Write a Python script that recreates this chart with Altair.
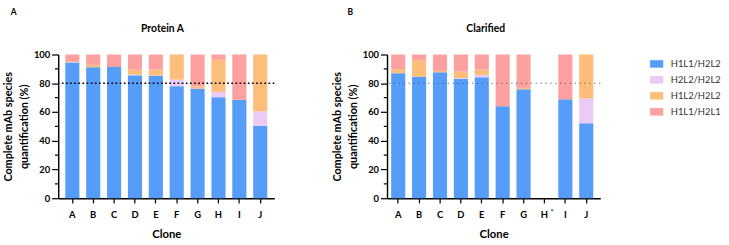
import altair as alt
import pandas as pd

# Clones on the x axis and the four mAb species stacked in each bar (bottom to top)
clones = ["A", "B", "C", "D", "E", "F", "G", "H", "I", "J"]
species = ["H1L1/H2L2", "H2L2/H2L2", "H1L2/H2L2", "H1L1/H2L1"]
species_colors = ["#559DF9", "#EBCBF6", "#FDBE7C", "#FCA0A0"]

# Protein A purified material (% of complete mAb species)
pa_h1l1_h2l2 = [94.5, 91.2, 91.3, 85.5, 85.3, 78.0, 76.2, 70.3, 68.5, 50.5]
pa_h2l2_h2l2 = [0.0, 0.0, 0.0, 0.5, 0.0, 4.5, 0.0, 3.7, 0.0, 10.0]
pa_h1l2_h2l2 = [0.5, 1.6, 0.0, 3.4, 4.2, 17.5, 1.5, 22.3, 0.0, 39.5]
pa_h1l1_h2l1 = [5.0, 7.2, 8.7, 10.6, 10.5, 0.0, 22.3, 3.7, 31.5, 0.0]

# Clarified harvest (% of complete mAb species); clone H was not measured
cl_h1l1_h2l2 = [87.0, 84.5, 87.6, 83.1, 84.1, 64.0, 75.8, None, 68.8, 52.2]
cl_h2l2_h2l2 = [0.0, 0.0, 0.0, 0.5, 1.7, 0.0, 0.0, None, 0.0, 17.2]
cl_h1l2_h2l2 = [2.9, 11.6, 1.0, 4.5, 3.7, 0.0, 1.0, None, 0.0, 30.6]
cl_h1l1_h2l1 = [10.1, 3.9, 11.4, 11.9, 10.5, 36.0, 23.2, None, 31.2, 0.0]

threshold = [80]
major_ticks = [0, 20, 40, 60, 80, 100]
minor_ticks = [10, 30, 50, 70, 90]

FONT = "Lato"
H = 153


def to_long(series):
    rows = []
    for k, (name, values) in enumerate(zip(species, series)):
        for clone, v in zip(clones, values):
            if v is None:
                continue
            rows.append({"clone": clone, "species": name, "value": v, "k": k})
    return pd.DataFrame(rows)


def panel(df, title, letter, width, outer, align, rule_style, letter_dx, title_x, star=None):
    xscale = alt.Scale(domain=clones, paddingInner=0.325, paddingOuter=outer, align=align)
    xaxis = alt.Axis(
        title="Clone", labelAngle=0, labelFont=FONT, labelFontWeight="bold",
        labelFontSize=10, labelColor="black", labelPadding=7,
        titleFont=FONT, titleFontWeight="bold", titleFontSize=12,
        titleColor="black", titlePadding=11, tickSize=5, tickWidth=1.3,
        tickColor="black", domainColor="black", domainWidth=1.5,
    )
    yaxis = alt.Axis(
        title=["Complete mAb species", "quantification (%)"], values=major_ticks,
        labelOverlap=False, labelFont=FONT, labelFontWeight="bold", labelFontSize=10,
        labelColor="black", labelPadding=2, tickSize=7, tickWidth=1.3,
        tickColor="black", domainColor="black", domainWidth=1.5, grid=False,
        titleFont=FONT, titleFontWeight="bold", titleFontSize=11.5,
        titleColor="black", titlePadding=4, titleLineHeight=17,
    )
    yscale = alt.Scale(domain=[0, 100], nice=False)

    bars = alt.Chart(df).mark_bar().encode(
        x=alt.X("clone:N", scale=xscale, axis=xaxis),
        y=alt.Y("value:Q", stack="zero", scale=yscale, axis=yaxis),
        color=alt.Color(
            "species:N",
            scale=alt.Scale(domain=species, range=species_colors),
            legend=alt.Legend(title=None),
        ),
        order=alt.Order("k:Q"),
    )

    minor = alt.Chart(pd.DataFrame({"t": minor_ticks})).mark_rule(
        color="black", strokeWidth=1.3
    ).encode(y=alt.Y("t:Q", axis=None), x=alt.value(-3.5), x2=alt.value(0))

    line = alt.Chart(pd.DataFrame({"y": threshold})).mark_rule(**rule_style).encode(
        y=alt.Y("y:Q", axis=None)
    )

    tag = alt.Chart(pd.DataFrame({"t": [letter]})).mark_text(
        font=FONT, fontWeight="bold", fontSize=9, align="left",
        baseline="alphabetic", color="black",
    ).encode(text="t:N", x=alt.value(letter_dx), y=alt.value(-42.5))

    heading = alt.Chart(pd.DataFrame({"t": [title]})).mark_text(
        font=FONT, fontWeight="bold", fontSize=11, align="center",
        baseline="middle", color="black",
    ).encode(text="t:N", x=alt.value(title_x), y=alt.value(-26.5))

    layers = [bars, minor, line, tag, heading]
    if star:
        layers.append(
            alt.Chart(pd.DataFrame({"clone": [star]})).mark_text(
                text="*", font=FONT, fontSize=9, dx=8, color="#333"
            ).encode(x=alt.X("clone:N"), y=alt.value(H + 15))
        )

    return alt.layer(*layers).resolve_axis(y="independent").properties(
        width=width, height=H
    )


left = panel(
    to_long([pa_h1l1_h2l2, pa_h2l2_h2l2, pa_h1l2_h2l2, pa_h1l1_h2l1]),
    "Protein A", "A", 230, 0.3375, 0.5,
    {"color": "black", "strokeWidth": 1.6, "strokeDash": [1.8, 2.6]},
    -50.5, 111,
)
right = panel(
    to_long([cl_h1l1_h2l2, cl_h2l2_h2l2, cl_h1l2_h2l2, cl_h1l1_h2l1]),
    "Clarified", "B", 227, 0.266, 0.37,
    {"color": "#555555", "strokeWidth": 1.2, "strokeDash": [1.2, 4]},
    -42, 105, star="H",
)

chart = alt.hconcat(left, right, spacing=60).resolve_scale(
    color="shared"
).properties(
    padding={"left": 3, "top": 0, "right": 5, "bottom": 2},
).configure_view(stroke=None).configure_legend(
    orient="right", offset=49, labelFont=FONT, labelFontSize=10,
    labelColor="#333333", symbolType="M-1,-0.57H1V0.57H-1Z", symbolSize=196,
    symbolStrokeWidth=0, symbolOpacity=1, rowPadding=5, labelOffset=8,
    padding=3,
)

chart.save("out.html", embed_options={"renderer": "svg", "actions": False})
